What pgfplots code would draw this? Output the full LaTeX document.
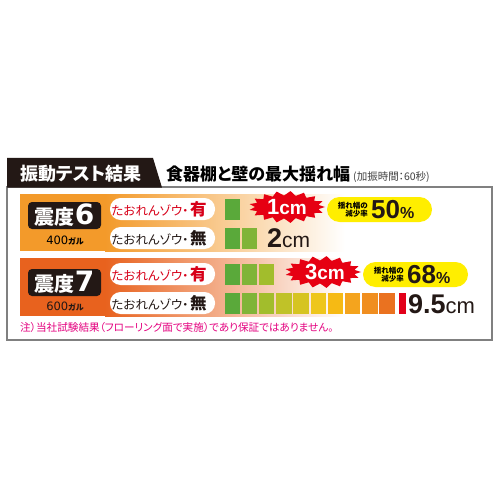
\documentclass[border=0pt]{standalone}
\usepackage{pgfplots}
\pgfplotsset{compat=1.18}
\usepackage{pgfplotstable}
\usepackage{fontspec}
\setmainfont{Noto Sans CJK JP}[RawFeature=+palt]
\newfontfamily\djf{DejaVu Sans}
\newfontfamily\lsf{Liberation Sans}

\definecolor{b1}{RGB}{90,169,58}
\definecolor{b2}{RGB}{128,180,56}
\definecolor{b3}{RGB}{162,189,44}
\definecolor{b4}{RGB}{192,194,40}
\definecolor{b5}{RGB}{214,196,33}
\definecolor{b6}{RGB}{238,198,28}
\definecolor{b7}{RGB}{246,186,20}
\definecolor{b8}{RGB}{244,164,30}
\definecolor{b9}{RGB}{240,142,32}
\definecolor{b10}{RGB}{234,114,32}
\definecolor{bred}{RGB}{226,0,26}
\definecolor{panA}{RGB}{243,154,42}
\definecolor{panB}{RGB}{232,98,30}
\definecolor{labbg}{RGB}{35,24,21}
\definecolor{starred}{RGB}{230,0,18}
\definecolor{pillred}{RGB}{215,0,25}
\definecolor{yel}{RGB}{255,238,0}
\definecolor{note}{RGB}{228,0,127}

% block centres: x in cm (one block = 1 cm), y = row position (px)
\pgfplotstableread{
x   y   c
0.5 209 a
0.5 238 a
1.5 238 b
0.5 274 a
1.5 274 b
2.5 274 c
0.5 303 a
1.5 303 b
2.5 303 c
3.5 303 d
4.5 303 e
5.5 303 f
6.5 303 g
7.5 303 h
8.5 303 i
9.5 303 j
}\blocks
\pgfplotstableread{
x     y
10.37 303
}\redblock

\begin{document}
\begin{tikzpicture}
\begin{scope}[x=1bp,y=-1bp]
% frame
\fill[white] (0,0) rectangle (500,500);
\draw[black!50, line width=1.3bp] (7,187) rectangle (492,340);
\fill[labbg] (7,158) -- (153,158) -- (162,187.6) -- (7,187.6) -- cycle;
\node[text=white, font=\bfseries\fontsize{18bp}{18bp}\selectfont] at (81,173.5) {振動テスト結果};
\node[anchor=base west, inner sep=0, font=\bfseries\fontsize{17bp}{17bp}\selectfont] at (166,181) {食器棚と壁の最大揺れ幅};
\node[anchor=base west, inner sep=0, text=black!75, font=\fontsize{10.5bp}{10.5bp}\selectfont] at (353,180.5) {(加振時間：60秒)};
% panels
\fill[panA] (20,194) rectangle (106,251);
\shade[left color=panA, right color=white] (105,194) rectangle (345,251);
\fill[panB] (20,258) rectangle (106,316);
\shade[left color=panB, right color=white] (105,258) rectangle (345,316);
% labels
\fill[labbg, rounded corners=4bp] (28,202) rectangle (101,229);
\fill[labbg, rounded corners=4bp] (28,269) rectangle (101,296);
\node[text=white, inner sep=0] at (64.5,215.5) {\bfseries\fontsize{20bp}{20bp}\selectfont 震度\djf\fontsize{28bp}{28bp}\selectfont 6};
\node[text=white, inner sep=0] at (64.5,282.5) {\bfseries\fontsize{20bp}{20bp}\selectfont 震度\djf\fontsize{28bp}{28bp}\selectfont 7};
\node[inner sep=0] at (65,240.5) {\djf\fontsize{11.5bp}{12bp}\selectfont 400\rmfamily\bfseries\fontsize{8bp}{8bp}\selectfont ガル};
\node[inner sep=0, text=labbg] at (65,306) {\djf\fontsize{11.5bp}{12bp}\selectfont 600\rmfamily\bfseries\fontsize{8bp}{8bp}\selectfont ガル};
% pills
\foreach \yc in {209,238,274,303}{
  \fill[white, rounded corners=10.5bp] (110,\yc-11) rectangle (215,\yc+11);
}
\node[text=pillred, inner sep=0] at (159,209) {\fontsize{12.5bp}{13bp}\selectfont たおれんゾウ・\hspace{1.5bp}\bfseries\fontsize{16.5bp}{17bp}\selectfont 有};
\node[text=labbg, inner sep=0] at (159,238) {\fontsize{12.5bp}{13bp}\selectfont たおれんゾウ・\hspace{1.5bp}\bfseries\fontsize{16.5bp}{17bp}\selectfont 無};
\node[text=pillred, inner sep=0] at (159,274) {\fontsize{12.5bp}{13bp}\selectfont たおれんゾウ・\hspace{1.5bp}\bfseries\fontsize{16.5bp}{17bp}\selectfont 有};
\node[text=labbg, inner sep=0] at (159,303) {\fontsize{12.5bp}{13bp}\selectfont たおれんゾウ・\hspace{1.5bp}\bfseries\fontsize{16.5bp}{17bp}\selectfont 無};
\end{scope}

\begin{axis}[at={(0,0)}, anchor=north west, scale only axis,
  width=500bp, height=500bp,
  xmin=-13.003, xmax=16.067, ymin=0, ymax=500, y dir=reverse,
  hide axis, clip=false]
\addplot[scatter, only marks, mark=square*, mark size=10bp,
  mark options={xscale=0.725, line width=0pt},
  point meta=explicit symbolic,
  scatter/classes={
    a={draw=b1,fill=b1}, b={draw=b2,fill=b2}, c={draw=b3,fill=b3},
    d={draw=b4,fill=b4}, e={draw=b5,fill=b5}, f={draw=b6,fill=b6},
    g={draw=b7,fill=b7}, h={draw=b8,fill=b8}, i={draw=b9,fill=b9},
    j={draw=b10,fill=b10}}]
  table[x=x, y=y, meta=c] {\blocks};
\addplot[only marks, mark=square*, mark size=10bp,
  mark options={xscale=0.3, draw=bred, fill=bred, line width=0pt}]
  table[x=x, y=y] {\redblock};
\end{axis}

\begin{scope}[x=1bp,y=-1bp]
% starbursts
\fill[starred, shift={(287,207)}] plot[domain=0:33, samples=34]
  ({(38-6*mod(\x,2))*cos(\x*360/34)}, {(16-4.5*mod(\x,2))*sin(\x*360/34)}) -- cycle;
\fill[starred, shift={(323,272)}] plot[domain=0:33, samples=34]
  ({(38-6*mod(\x,2))*cos(\x*360/34)}, {(16-4.5*mod(\x,2))*sin(\x*360/34)}) -- cycle;
\node[text=white, anchor=base, inner sep=0] at (287,214.5) {\lsf\bfseries\fontsize{22bp}{22bp}\selectfont 1\fontsize{19bp}{19bp}\selectfont cm};
\node[text=white, anchor=base, inner sep=0] at (325,279.5) {\lsf\bfseries\fontsize{22bp}{22bp}\selectfont 3\fontsize{19bp}{19bp}\selectfont cm};
% values
\node[anchor=base west, inner sep=0, text=labbg] at (267,247) {\lsf\bfseries\fontsize{27bp}{27bp}\selectfont 2\mdseries\fontsize{21bp}{21bp}\selectfont cm};
\node[anchor=base west, inner sep=0, text=labbg] at (408,313) {\lsf\bfseries\fontsize{27bp}{27bp}\selectfont 9.5\mdseries\fontsize{22bp}{22bp}\selectfont cm};
% reduction pills
\fill[yel, rounded corners=12.5bp] (327,197) rectangle (432,222);
\fill[yel, rounded corners=12.5bp] (363,262) rectangle (468,287);
\node[align=right, inner sep=0, font=\bfseries\fontsize{7.5bp}{8.5bp}\selectfont, anchor=east] at (368,209.5) {揺れ幅の\\減少率};
\node[align=right, inner sep=0, font=\bfseries\fontsize{7.5bp}{8.5bp}\selectfont, anchor=east] at (404,274.5) {揺れ幅の\\減少率};
\node[anchor=base west, inner sep=0, text=labbg] at (371,218.5) {\lsf\bfseries\fontsize{26bp}{26bp}\selectfont 50\fontsize{16bp}{16bp}\selectfont\%};
\node[anchor=base west, inner sep=0, text=labbg] at (407,283.5) {\lsf\bfseries\fontsize{26bp}{26bp}\selectfont 68\fontsize{16bp}{16bp}\selectfont\%};
% note
\node[anchor=base west, inner sep=0, text=note, font=\fontsize{10.6bp}{11bp}\selectfont] at (20,331.5) {注）当社試験結果（フローリング面で実施）であり保証ではありません。};
\pgfresetboundingbox
\useasboundingbox (0,0) rectangle (500,500);
\end{scope}
\end{tikzpicture}
\end{document}
